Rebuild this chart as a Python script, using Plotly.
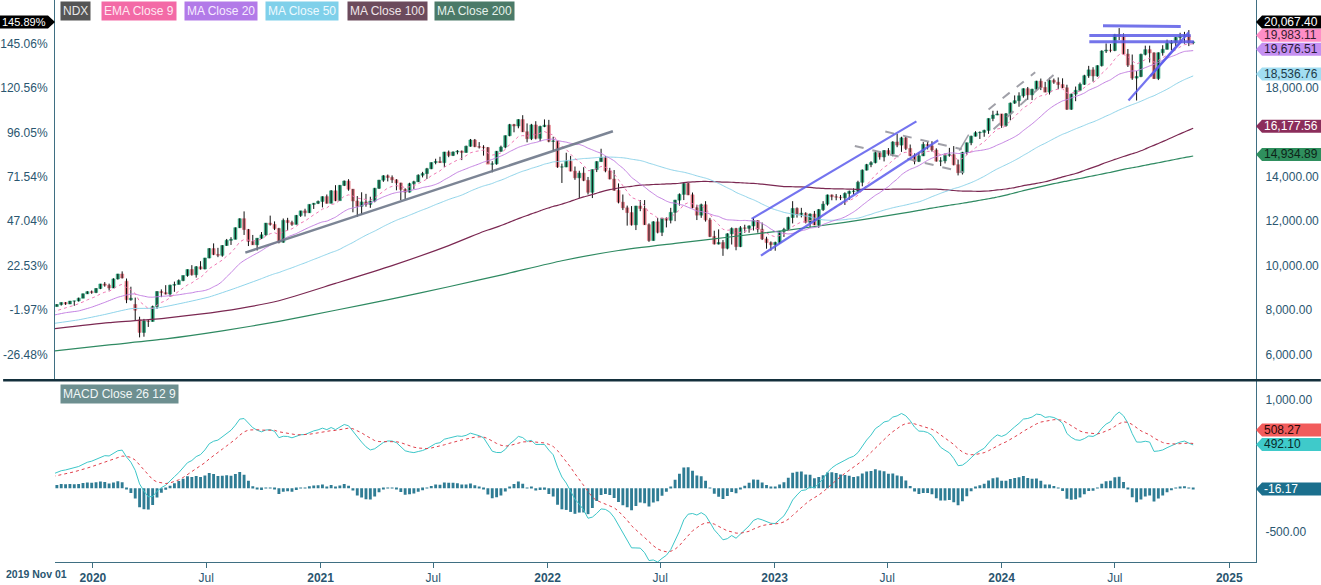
import numpy as np
import pandas as pd
import plotly.graph_objects as go

# ---------------- data (weekly NDX) ----------------
week_start = "2019-10-28"
opens = [8095,8161,8247,8341,8274,8403,8411,8535,8731,8829,8793,8970,9174,9115,8992,9402,9623,9300,8462,8250,
 7560,6994,7502,7487,8154,8832,8784,8719,9121,9152,9325,9555,9824,9588,9946,9849,10341,10767,10503,10461,
 10905,11139,11183,11706,12110,11623,11088,10937,11233,11383,11911,11852,11667,11052,12036,11937,11855,12258,12464,12378,
 12756,12805,12888,13105,12804,13366,12925,13612,13807,13440,12909,12668,12866,12756,12902,13480,13845,14042,13966,13860,
 13720,13430,13307,13687,13774,14069,14143,14360,14639,14688,14634,15113,14959,15115,15154,15094,15373,15653,15355,15332,
 15310,14566,14579,15146,15335,15850,16345,16285,16573,16025,15712,16331,15730,16260,16320,15593,15612,14438,14441,14697,
 14253,13952,14163,13838,13301,14323,14682,14862,14264,13897,13391,12855,12600,12387,11835,12681,12572,11840,11128,11970,
 11500,12126,12041,12396,12947,13207,13695,13186,12605,12271,12739,12055,11311,10971,11039,10782,11431,11667,10857,11700,
 11677,11786,12030,11638,11200,11034,10940,11040,11542,11623,12166,12573,12304,12358,11950,12320,11830,12520,12767,13181,
 13101,13079,13051,13246,13339,13350,13750,14298,14546,14634,15083,14891,15179,15029,15565,15425,15750,15274,14946,14694,
 14941,15454,15390,15202,14701,14715,14964,14995,14540,14180,15099,15529,15823,15983,15998,16085,16623,16778,16826,16306,
 16832,17314,17422,17642,17963,17686,17937,18302,18019,17808,18339,18254,18149,18003,17037,17718,17890,18161,18546,18809,
 18537,19000,19659,19700,19683,20392,20331,19522,19023,18440,18513,19508,19720,19575,18421,19581,19736,20008,20044,20272,
 20324,20352,20033]
highs = [8170,8270,8350,8360,8410,8420,8560,8745,8850,8880,8990,9180,9260,9190,9430,9630,9740,9420,9050,8560,
 7700,7600,7560,8200,8850,8930,9120,9140,9280,9380,9560,9830,10020,9980,10200,10350,10790,11000,10800,10920,
 11200,11280,11720,12130,12440,11650,11380,11240,11510,11920,12250,11990,11700,12120,12150,12020,12280,12470,12560,12760,
 12820,12930,13120,13200,13400,13620,13630,13830,13890,13450,13130,13300,13230,13100,13500,13860,14070,14100,14060,13890,
 13730,13480,13730,13820,14110,14220,14400,14650,14810,14900,15120,15180,15140,15200,15180,15400,15700,15700,15560,15420,
 15340,14700,15160,15400,15860,16380,16380,16590,16770,16400,16380,16500,16300,16580,16560,15800,15620,14590,15080,14940,
 14460,14270,14430,13990,14330,14700,15260,14930,14400,14300,13700,13200,12700,12680,12690,12950,12950,11900,12000,12150,
 12150,12170,12600,12960,13250,13720,13720,13290,12740,12790,12900,12150,11570,11630,11150,11460,11720,11700,11780,11840,
 11810,12150,12040,11940,11300,11090,11080,11560,11700,12200,12900,12620,12600,12400,12350,12460,12550,12900,13200,13200,
 13220,13180,13300,13380,13480,13820,14330,14580,14700,15180,15120,15200,15290,15600,15930,15800,15800,15450,15050,15100,
 15560,15570,15600,15280,14880,15050,15300,15380,14770,15120,15540,15850,16050,16040,16120,16630,16970,16970,16830,16870,
 17340,17660,17800,17980,18040,17960,18320,18420,18270,18460,18420,18470,18430,18140,17740,18060,18240,18590,18990,18930,
 19020,19690,20000,19980,20430,20690,20450,19750,19500,18760,19540,19900,19900,19600,19600,19920,20170,20150,20290,20480,
 20520,20600,20110]
lows = [8040,8150,8200,8230,8270,8190,8380,8530,8720,8730,8760,8940,9050,8880,8990,9370,9420,8310,8420,7520,
 6770,6800,7240,7480,8050,8580,8700,8600,8820,9150,9300,9500,9550,9460,9820,9830,10330,10470,10380,10400,
 10890,10930,11180,11690,11380,10880,10930,10680,11200,11340,11800,11600,11000,11030,11580,11790,11850,12190,12210,12370,
 12550,12770,12620,12790,12800,12900,12920,13580,13370,12400,12200,12300,12650,12600,12850,13450,13770,13790,13720,13390,
 12950,13000,13290,13450,13760,13970,13900,14340,14560,14620,14430,14880,14930,15010,14750,15080,15350,15330,15270,14950,
 14600,14200,14540,15120,15280,15820,16000,16180,16010,15550,15650,15680,15600,16230,15550,15150,14400,13720,14430,14240,
 13860,13030,13800,13200,13040,14210,14670,14200,13880,13370,12800,12500,11800,11800,11600,12450,11830,11070,11120,11450,
 11330,11720,11900,12000,12700,12950,13170,12580,12050,12150,11980,11280,10950,10950,10440,10730,10950,10690,10830,11480,
 11480,11580,11480,11150,10760,10670,10670,10980,11290,11560,11900,12160,12170,11900,11700,11820,11700,12460,12700,12940,
 12940,12950,12730,12960,13200,13300,13570,14280,14430,14600,14770,14690,14950,14920,15330,15120,15200,14920,14560,14660,
 14930,15230,15130,14680,14480,14600,14900,14510,14060,14100,15000,15420,15810,15700,15800,15930,16500,16770,16200,16250,
 16540,17280,17150,17560,17460,17450,17900,17900,17800,17700,18180,17940,17990,17010,17010,17400,17850,18130,18450,18280,
 18500,18960,19570,19600,19650,20150,19500,18940,18360,17430,18480,19460,19140,18400,18350,19450,19720,19690,19880,20110,
 19990,19880,19960]
closes = [8161.15,8247,8341,8274,8403,8411,8535,8731,8829,8793,8970,9174,9115,8992,9402,9623,9446,8462,8531,7996,
 6994,7502,7487,8154,8832,8784,8719,9121,9152,9325,9555,9824,9588,9946,9849,10341,10767,10503,10461,10905,
 11139,11183,11706,12110,11623,11088,10937,11233,11383,11911,11852,11667,11052,12036,11937,11855,12258,12464,12378,12756,
 12805,12888,13105,12804,13366,12925,13612,13807,13440,12909,12668,12866,12756,12902,13480,13845,14042,13966,13860,13720,
 13430,13307,13687,13774,14069,14143,14360,14639,14688,14634,15113,14959,15115,15154,15094,15373,15653,15355,15332,15310,
 14566,14579,15146,15335,15850,16345,16285,16573,16025,15712,16331,15730,16260,16320,15593,15612,14438,14441,14697,14253,
 13952,14163,13838,13301,14323,14682,14862,14264,13897,13391,12855,12600,12387,11835,12681,12572,11840,11128,11970,11500,
 12126,12041,12396,12947,13207,13695,13186,12605,12271,12739,12055,11311,10971,11039,10782,11431,11667,10857,11700,11677,
 11786,12030,11638,11200,11034,10940,11040,11542,11623,12166,12573,12304,12358,11950,12320,11830,12520,12767,13181,13101,
 13079,13051,13246,13339,13350,13750,14298,14546,14634,15083,14891,15179,15029,15565,15425,15750,15274,14946,14694,14941,
 15454,15390,15202,14701,14715,14964,14995,14540,14180,15099,15529,15823,15983,15998,16085,16623,16778,16826,16306,16832,
 17314,17422,17642,17963,17686,17937,18302,18019,17808,18339,18254,18149,18003,17037,17718,17890,18161,18546,18809,18537,
 19000,19659,19700,19683,20392,20331,19522,19023,18440,18513,19508,19720,19575,18421,19581,19736,20008,20044,20272,20324,
 20352,20033,20067.4]

# indicator lead-in values (weeks before each average has a full window inside the chart)
ema9_seed = 7851
ma20_lead_idx = [0, 3, 6, 9, 12, 15, 18]
ma20_lead = [7760, 7880, 7960, 8130, 8345, 8575, 8721]
ma50_lead_idx = [0, 6, 12, 18, 24, 30, 36, 42, 48]
ma50_lead = [7390, 7560, 7800, 8060, 8090, 8320, 8590, 8984, 9413]
ma100_lead_idx = [0, 13, 26, 39, 52, 65, 78, 91]
ma100_lead = [7150, 7430, 7640, 7950, 8420, 9200, 10000, 10900]
ma200_lead_idx = [0, 13, 26, 39, 52, 65, 78, 91, 104, 117, 130, 143, 156, 169, 182, 195]
ma200_lead = [6146, 6430, 6700, 7060, 7490, 7990, 8500, 9050, 9620, 10220, 10680, 11000, 11300, 11600, 11950, 12350]
macd_seeds = {"ema12": 7800, "ema26": 7660, "signal": 125}

# last-value tags as printed on the chart
main_tags = [  # value, text, bg, fg, shift(px up)
    (20067.40, "20,067.40", "#000000", "#ffffff", 20.0),
    (19983.11, "19,983.11", "#ff8ec6", "#3a2030", 8.5),
    (19676.51, "19,676.51", "#c590f2", "#2a1a3a", 1.5),
    (18536.76, "18,536.76", "#a2def2", "#1d3a48", 2.0),
    (16177.56, "16,177.56", "#8b2d5b", "#ffffff", 2.0),
    (14934.89, "14,934.89", "#2f8f5e", "#0d2418", 1.5),
]
macd_tags = [
    (508.27, "508.27", "#f25c5c", "#2a0a0a", 13.5),
    (492.10, "492.10", "#3fcaca", "#0a2a2a", 0.5),
    (-16.17, "-16.17", "#1b6f8d", "#ffffff", 0.5),
]
price_ticks = [6000, 8000, 10000, 12000, 14000, 18000]
pct_ticks = [6000, 8000, 10000, 12000, 14000, 16000, 18000, 20000]
macd_ticks = [1000, -500]
x_ticks = ["2020-01-01", "2020-07-01", "2021-01-01", "2021-07-01", "2022-01-01", "2022-07-01",
           "2023-01-01", "2023-07-01", "2024-01-01", "2024-07-01", "2025-01-01"]
x_tick_text = ["<b>2020</b>", "Jul", "<b>2021</b>", "Jul", "<b>2022</b>", "Jul",
               "<b>2023</b>", "Jul", "<b>2024</b>", "Jul", "<b>2025</b>"]

# trend lines drawn on the chart (date, price)
gray_trend = [("2020-09-02", 10583), ("2022-04-16", 16045)]
gray_pole = [("2023-10-25", 15180), ("2023-11-09", 15900)]
blue_lines = [
    [("2022-11-25", 12105), ("2023-08-17", 16493)],
    [("2022-12-10", 10449), ("2023-09-21", 15642)],
    [("2024-07-23", 17433), ("2024-10-28", 20500)],
    [("2024-08-27", 18521), ("2024-10-16", 20088)],
]
blue_levels = [
    [("2024-06-12", 20791), ("2024-10-15", 20759)],
    [("2024-05-21", 20357), ("2024-10-31", 20357)],
    [("2024-05-21", 20074), ("2024-11-05", 20074)],
]
dashed_lines = [
    [("2023-06-28", 16032), ("2023-10-29", 15239)],
    [("2023-05-10", 15387), ("2023-11-01", 14196)],
    [("2023-12-11", 17030), ("2024-02-24", 18700)],
    [("2023-12-19", 16135), ("2024-04-04", 18852)],
]

# ---------------- derived series ----------------
N = len(closes)
dates = pd.date_range(week_start, periods=N, freq="W-MON")
o = np.array(opens, float); h = np.array(highs, float)
l = np.array(lows, float); c = np.array(closes, float)
base_close = c[0]

def ema(values, seed, n):
    a = 2.0 / (n + 1)
    out, prev = [], seed
    for v in values:
        prev = prev + a * (v - prev)
        out.append(prev)
    return np.array(out)

def sma_line(n, lead_idx, lead_vals):
    xs = [dates[i] for i in lead_idx] + [dates[i] for i in range(n - 1, N)]
    ys = list(lead_vals) + [c[i - n + 1:i + 1].mean() for i in range(n - 1, N)]
    return xs, ys

ema9 = ema(c, ema9_seed, 9)
ema12 = ema(c, macd_seeds["ema12"], 12)
ema26 = ema(c, macd_seeds["ema26"], 26)
macd = ema12 - ema26
signal = ema(macd, macd_seeds["signal"], 9)
hist = macd - signal

# ---------------- geometry ----------------
W, H = 1321, 585
ML, MR, MT, MB = 52, 65, 0, 20
PH = H - MT - MB
PW = W - ML - MR
main_dom = [(PH - 381.5) / PH, 1.0]
macd_dom = [0.0, (PH - 383.5) / PH]
main_range = [4875, 21955]
macd_range = [-839, 1213]
main_upp = (main_range[1] - main_range[0]) / ((main_dom[1] - main_dom[0]) * PH)
macd_upp = (macd_range[1] - macd_range[0]) / ((macd_dom[1] - macd_dom[0]) * PH)

FONT = "Liberation Sans, Arial, sans-serif"
TICKC = "#2a5670"
AXC = "#3f6f82"
GREEN, RED = "#2ea37b", "#e27884"
DAY = 86400000

fig = go.Figure()

# wicks
wx, wy = [], []
for d, lo, hi in zip(dates, l, h):
    wx += [d, d, None]; wy += [lo, hi, None]
fig.add_trace(go.Scatter(x=wx, y=wy, mode="lines", line=dict(color="#111111", width=1),
                         xaxis="x2", yaxis="y", hoverinfo="skip"))
# bodies
body_base = np.minimum(o, c)
body_h = np.maximum(np.abs(c - o), 1.0)
body_col = [GREEN if cc >= oo else RED for oo, cc in zip(o, c)]
fig.add_trace(go.Bar(x=dates, y=body_h, base=body_base, width=5.0 * DAY,
                     marker=dict(color=body_col, line=dict(color=body_col, width=0.6)),
                     xaxis="x2", yaxis="y", hoverinfo="skip"))

# moving averages
x200, y200 = sma_line(200, ma200_lead_idx, ma200_lead)
x100, y100 = sma_line(100, ma100_lead_idx, ma100_lead)
x50, y50 = sma_line(50, ma50_lead_idx, ma50_lead)
x20, y20 = sma_line(20, ma20_lead_idx, ma20_lead)
fig.add_trace(go.Scatter(x=x200, y=y200, mode="lines", line=dict(color="#2f8a62", width=1.2, shape="spline", smoothing=0.6),
                         xaxis="x2", yaxis="y", hoverinfo="skip"))
fig.add_trace(go.Scatter(x=x100, y=y100, mode="lines", line=dict(color="#7b2852", width=1.2, shape="spline", smoothing=0.6),
                         xaxis="x2", yaxis="y", hoverinfo="skip"))
fig.add_trace(go.Scatter(x=x50, y=y50, mode="lines", line=dict(color="#8fd4ea", width=1, shape="spline", smoothing=0.5),
                         xaxis="x2", yaxis="y", hoverinfo="skip"))
fig.add_trace(go.Scatter(x=x20, y=y20, mode="lines", line=dict(color="#c482e2", width=1, shape="spline", smoothing=0.4),
                         xaxis="x2", yaxis="y", hoverinfo="skip"))
fig.add_trace(go.Scatter(x=dates, y=ema9, mode="lines", line=dict(color="#f07ab4", width=1, dash="dot"),
                         xaxis="x2", yaxis="y", hoverinfo="skip"))

# MACD
fig.add_trace(go.Bar(x=dates, y=hist, width=4.6 * DAY, marker=dict(color="#2f7c94", line=dict(width=0)),
                     xaxis="x", yaxis="y3", hoverinfo="skip"))
fig.add_trace(go.Scatter(x=dates, y=macd, mode="lines", line=dict(color="#3cc6c8", width=1),
                         xaxis="x", yaxis="y3", hoverinfo="skip"))
fig.add_trace(go.Scatter(x=dates, y=signal, mode="lines", line=dict(color="#e0404c", width=1, dash="dot"),
                         xaxis="x", yaxis="y3", hoverinfo="skip"))

shapes, annos = [], []

def seg(pts, color, width, dash="solid"):
    shapes.append(dict(type="line", xref="x2", yref="y", x0=pts[0][0], y0=pts[0][1], x1=pts[1][0], y1=pts[1][1],
                       line=dict(color=color, width=width, dash=dash), layer="above"))

seg(gray_trend, "rgba(110,120,138,0.9)", 2.5)
seg(gray_pole, "rgba(150,150,160,0.9)", 1.5)
for pts in dashed_lines:
    seg(pts, "rgba(150,150,158,0.9)", 2, "dash")
for pts in blue_lines:
    seg(pts, "rgba(92,92,236,0.85)", 2.2)
for pts in blue_levels:
    seg(pts, "rgba(92,92,230,0.85)", 3)

# separator between panels
shapes.append(dict(type="line", xref="paper", yref="paper", x0=-ML / PW, x1=(W - ML) / PW,
                   y0=(PH - 382.2) / PH, y1=(PH - 382.2) / PH, line=dict(color="#14303c", width=2.5)))

def tag_right(yref, value, text, bg, fg, shift, upp):
    yd = value + shift * upp
    shapes.append(dict(type="path", xref="paper", yref=yref, xsizemode="pixel", ysizemode="pixel",
                       xanchor=1.0, yanchor=yd, path="M0,0 L6,6.5 L66,6.5 L66,-6.5 L6,-6.5 Z",
                       fillcolor=bg, line=dict(width=0), layer="above"))
    annos.append(dict(xref="paper", yref=yref, x=1.0, y=yd, xanchor="left", yanchor="middle", xshift=6,
                      text=text, showarrow=False, font=dict(family=FONT, size=12, color=fg)))
    return yd

top_y = None
for v, t, bg, fg, s in main_tags:
    yd = tag_right("y", v, t, bg, fg, s, main_upp)
    if top_y is None:
        top_y = yd
for v, t, bg, fg, s in macd_tags:
    tag_right("y3", v, t, bg, fg, s, macd_upp)

# left percent tag for the last close
pct_last = (c[-1] / base_close - 1) * 100
shapes.append(dict(type="path", xref="paper", yref="y", xsizemode="pixel", ysizemode="pixel",
                   xanchor=0.0, yanchor=top_y, path="M0,0 L-7,6.5 L-60,6.5 L-60,-6.5 L-7,-6.5 Z",
                   fillcolor="#000000", line=dict(width=0), layer="above"))
annos.append(dict(xref="paper", yref="y", x=0.0, y=top_y, xanchor="right", yanchor="middle", xshift=-7,
                  text=f"{pct_last:.2f}%", showarrow=False, font=dict(family=FONT, size=11, color="#ffffff")))

# legend boxes
def box(px, py, text, bg, fg):
    annos.append(dict(xref="paper", yref="paper", x=(px - ML) / PW, y=(PH - py) / PH, xanchor="left", yanchor="top",
                      text=text, showarrow=False, bgcolor=bg, borderpad=2,
                      font=dict(family=FONT, size=12, color=fg)))

box(57, 1, "NDX", "#555555", "#e8e8e8")
box(98, 1, "EMA Close 9", "#f36aa6", "#ffe8f2")
box(181, 1, "MA Close 20", "#b27ae8", "#f6ecff")
box(263, 1, "MA Close 50", "#7fd0ea", "#eefaff")
box(345, 1, "MA Close 100", "#6c4b5c", "#f0e6ea")
box(432, 1, "MA Close 200", "#4b7a68", "#e6f2ec")
box(57, 386, "MACD Close 26 12 9", "#6d8f90", "#f2f7f7")

# start-of-axis date label
annos.append(dict(xref="paper", yref="paper", x=(1 - ML) / PW, y=(PH - 577) / PH, xanchor="left", yanchor="middle",
                  text="<b>2019 Nov 01</b>", showarrow=False, font=dict(family=FONT, size=10.5, color=TICKC)))

fig.update_layout(
    width=W, height=H, autosize=False,
    margin=dict(l=ML, r=MR, t=MT, b=MB, pad=0),
    paper_bgcolor="white", plot_bgcolor="white",
    showlegend=False, barmode="overlay", hovermode=False,
    shapes=shapes, annotations=annos,
    xaxis=dict(domain=[0, 1], anchor="y3", type="date", range=["2019-11-01", "2025-02-13"],
               tickvals=x_ticks, ticktext=x_tick_text, ticks="outside", ticklen=5, tickcolor=AXC,
               showline=True, linecolor=AXC, linewidth=1, showgrid=False, zeroline=False,
               tickfont=dict(family=FONT, size=12, color=TICKC)),
    xaxis2=dict(domain=[0, 1], anchor="y", type="date", matches="x", showticklabels=False,
                showline=False, showgrid=False, zeroline=False, ticks=""),
    yaxis=dict(domain=main_dom, anchor="x2", side="right", range=main_range,
               tickvals=price_ticks, ticktext=[f"{v:,.2f}" for v in price_ticks],
               showline=True, linecolor=AXC, linewidth=1, showgrid=False, zeroline=False, ticks="",
               ticklabelstandoff=6, tickfont=dict(family=FONT, size=12, color=TICKC)),
    yaxis2=dict(domain=main_dom, anchor="x2", overlaying="y", side="left", range=main_range,
                tickvals=pct_ticks, ticktext=[f"{(v / base_close - 1) * 100:.2f}%" for v in pct_ticks],
                showline=True, linecolor=AXC, linewidth=1, showgrid=False, zeroline=False, ticks="",
                ticklabelstandoff=4, tickfont=dict(family=FONT, size=12, color=TICKC)),
    yaxis3=dict(domain=macd_dom, anchor="x", side="right", range=macd_range,
                tickvals=macd_ticks, ticktext=[f"{v:,.2f}" for v in macd_ticks],
                showline=True, linecolor=AXC, linewidth=1, showgrid=False, zeroline=False, ticks="",
                ticklabelstandoff=6, tickfont=dict(family=FONT, size=12, color=TICKC)),
)
# invisible point so the left percent axis is drawn
fig.add_trace(go.Scatter(x=[dates[0]], y=[c[0]], mode="markers", marker=dict(opacity=0),
                         xaxis="x2", yaxis="y2", hoverinfo="skip"))

fig.write_html("out.html", config={"displayModeBar": False},
               post_script="document.body.style.margin='0px';document.body.style.overflow='hidden';")
